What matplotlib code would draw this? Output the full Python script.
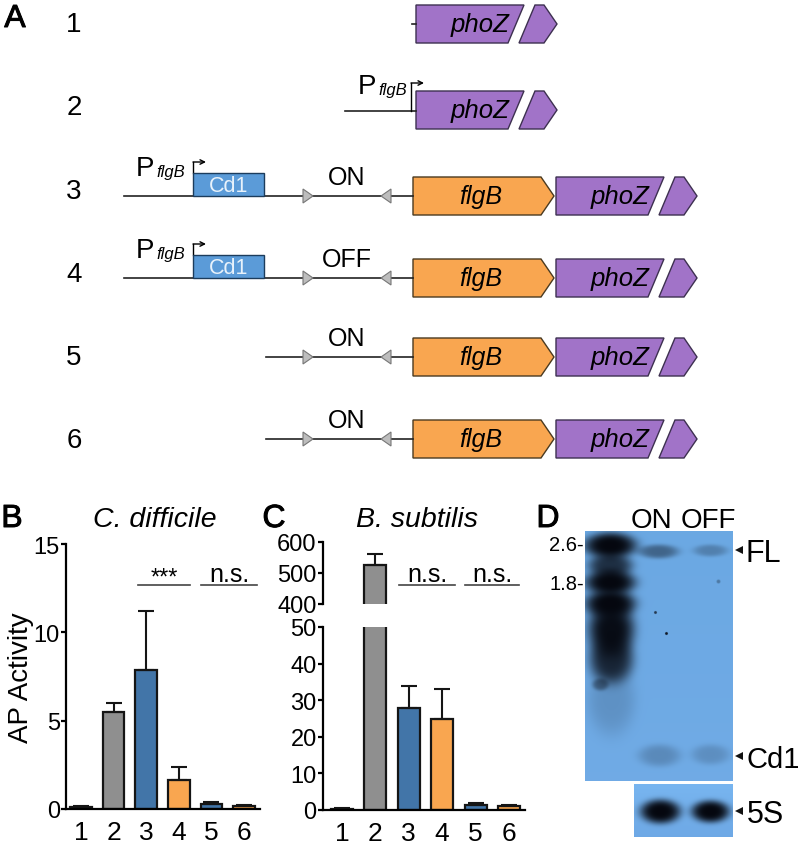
import numpy as np
import matplotlib
matplotlib.use("Agg")
import matplotlib.pyplot as plt
import matplotlib.patheffects as pe
from matplotlib.patches import Polygon, Rectangle

plt.rcParams['font.family'] = ['Liberation Sans', 'DejaVu Sans']

W, H = 800, 845

# bar data
lanes = [1, 2, 3, 4, 5, 6]
diff_vals = [0.1, 5.5, 7.85, 1.65, 0.3, 0.15]
diff_tops = [0.15, 6.0, 11.2, 2.4, 0.4, 0.25]
subt_vals = [0.3, 525, 28, 25, 1.5, 1.0]
subt_tops = [0.5, 560, 34, 33, 2.0, 1.5]
bar_colors = ['#555555', '#8f8f8f', '#4275a8', '#f9a650', '#4275a8', '#f9a650']

# blot bands: x, y, half width, half height, strength
blot_bands = [(610, 546, 26, 13, 1.0), (610, 583, 25, 13, 1.0), (610, 604, 25, 14, 1.0),
              (610, 566, 22, 12, 0.75), (611, 630, 23, 28, 0.97), (611, 660, 22, 24, 0.8),
              (600, 685, 8, 6, 0.4), (611, 700, 24, 36, 0.15),
              (658, 552, 20, 7, 0.42), (710, 551, 17, 6, 0.25),
              (659, 756, 21, 11, 0.2), (710, 755, 19, 10, 0.17),
              (655, 613, 1.5, 1.5, 0.7), (666, 634, 1.5, 1.5, 0.9), (718, 582, 2, 2, 0.3)]
small_bands = [(660, 812, 20, 12, 1.0), (710, 812, 19, 11, 1.0)]

# gene diagram rows: label y, line y
row_label_y = [25, 108, 192, 275, 358, 441]
row_line_y = [25, 112, 197, 279, 358, 440]
row_state = ['', '', 'ON', 'OFF', 'ON', 'ON']

PURPLE = '#a173c8'
ORANGE = '#f9a650'
BLUE = '#5b9bd8'
DARK = '#222222'


def blot_img(x0, x1, y0, y1, bands, top_col, bot_col):
    xx, yy = np.meshgrid(np.arange(x0, x1), np.arange(y0, y1))
    keep = np.ones(xx.shape)
    for bx, by, sx, sy, s in bands:
        d = ((xx - bx) / sx) ** 2 + ((yy - by) / sy) ** 2
        keep *= 1 - s * np.exp(-d ** 2)
    t = ((yy - y0) / (y1 - y0))[..., None]
    bg = np.array(top_col) * (1 - t) + np.array(bot_col) * t
    dark = np.array([0.02, 0.03, 0.06])
    k = keep[..., None]
    return bg * k + dark * (1 - k)


def phoz(ax, x0, mid):
    top, bot = mid - 19, mid + 19
    ax.add_patch(Polygon([(x0, top), (x0 + 108, top), (x0 + 92, bot), (x0, bot)],
                         fc=PURPLE, ec='#3d3050', lw=1))
    ax.add_patch(Polygon([(x0 + 119, top), (x0 + 128, top), (x0 + 141, mid),
                          (x0 + 128, bot), (x0 + 103, bot)],
                         fc=PURPLE, ec='#3d3050', lw=1))
    ax.text(x0 + 64, mid, 'phoZ', style='italic', fontsize=18.5, ha='center', va='center')


def flgb(ax, mid):
    top, bot = mid - 19, mid + 19
    ax.add_patch(Polygon([(413, top), (541, top), (554, mid), (541, bot), (413, bot)],
                         fc=ORANGE, ec='#4a3a20', lw=1))
    ax.text(481, mid, 'flgB', style='italic', fontsize=18, ha='center', va='center')


def promoter(ax, x, y0, y1, text_x, text_y):
    ax.annotate('', xy=(x + 13, y1), xytext=(x, y1),
                arrowprops=dict(arrowstyle='->', lw=1, color='black', shrinkA=0, shrinkB=0,
                                mutation_scale=8))
    ax.plot([x, x], [y0, y1], color='black', lw=1)
    ax.text(text_x, text_y, 'P', fontsize=20, ha='left', va='center')
    ax.text(text_x + 20, text_y + 4, 'flgB', style='italic', fontsize=12, ha='left', va='center')


fig = plt.figure(figsize=(W / 100, H / 100), dpi=100)
bg = fig.add_axes([0, 0, 1, 1])
bg.set_xlim(0, W)
bg.set_ylim(H, 0)
bg.axis('off')

for lab, y in zip(lanes, row_label_y):
    bg.text(74, y, str(lab), fontsize=20, ha='center', va='center')

bg.plot([416, 412], [row_line_y[0], row_line_y[0]], color=DARK, lw=1.2)
phoz(bg, 416, 25)
bg.plot([345, 416], [112, 112], color=DARK, lw=1.2)
promoter(bg, 411, 112, 84, 358, 87)
phoz(bg, 416, 111)

for i in [2, 3, 4, 5]:
    y = row_line_y[i]
    x_start = 124 if i < 4 else 266
    bg.plot([x_start, 413], [y, y], color=DARK, lw=1.2)
    bg.add_patch(Polygon([(303, y - 7), (313, y), (303, y + 7)], fc='#bdbdbd', ec='#777777', lw=0.8, zorder=3))
    bg.add_patch(Polygon([(391, y - 7), (381, y), (391, y + 7)], fc='#bdbdbd', ec='#777777', lw=0.8, zorder=3))
    bg.text(347, y - 19, row_state[i], fontsize=18, ha='center', va='center')
    flgb(bg, y)
    phoz(bg, 556, y)
    if i < 4:
        bg.add_patch(Rectangle((193, y - 23), 71, 23, fc=BLUE, ec='#1c3c5c', lw=1, zorder=3))
        bg.text(229, y - 10.5, 'Cd1', color='#e8f2fb', fontsize=15.5, ha='center', va='center', zorder=4)
        promoter(bg, 193, y - 23, y - 34, 136, y - 28)

# panel letters
for s, x, y in [('A', 15, 20), ('B', 12, 520), ('C', 274, 520), ('D', 548, 520)]:
    bg.text(x, y, s, fontsize=23, ha='center', va='center',
            path_effects=[pe.withStroke(linewidth=0.7, foreground='black')])

bg.text(155, 520, 'C. difficile', style='italic', fontsize=20.5, ha='center', va='center')
bg.text(417, 520, 'B. subtilis', style='italic', fontsize=20.5, ha='center', va='center')


def bars(ax, vals, tops, width=0.66):
    err = np.array(tops) - np.array(vals)
    ax.bar(lanes, vals, width=width, color=bar_colors, edgecolor='#151515', linewidth=1.6)
    ax.errorbar(lanes, vals, yerr=[np.zeros(len(err)), err], fmt='none', ecolor='#151515',
                elinewidth=1.5, capsize=5.5, capthick=1.5)


def style(ax):
    ax.patch.set_alpha(0)
    ax.spines['top'].set_visible(False)
    ax.spines['right'].set_visible(False)
    ax.spines['left'].set_linewidth(1.6)
    ax.spines['bottom'].set_linewidth(1.6)
    ax.tick_params(axis='y', length=3.5, width=1.6, labelsize=17, pad=1)
    ax.tick_params(axis='x', length=0, labelsize=19, pad=8)


def px_axes(x0, x1, y_top, y_bot):
    return fig.add_axes([x0 / W, 1 - y_bot / H, (x1 - x0) / W, (y_bot - y_top) / H])


# panel B
ax_b = px_axes(66, 260, 545, 810)
bars(ax_b, diff_vals, diff_tops)
ax_b.set_xlim(0.54, 6.49)
ax_b.set_ylim(0, 15)
ax_b.set_yticks([0, 5, 10, 15])
ax_b.set_xticks(lanes)
style(ax_b)
ax_b.set_ylabel('AP Activity', fontsize=20, labelpad=0)

# panel C, lower part
ax_c = px_axes(323, 525, 628, 811)
bars(ax_c, subt_vals, subt_tops)
ax_c.set_xlim(0.431, 6.48)
ax_c.set_ylim(0, 50)
ax_c.set_yticks([0, 10, 20, 30, 40, 50])
ax_c.set_xticks(lanes)
style(ax_c)

# panel C, upper part
ax_u = px_axes(323, 525, 543, 605)
bars(ax_u, subt_vals, subt_tops)
ax_u.set_xlim(0.431, 6.48)
ax_u.set_ylim(400, 600)
ax_u.set_yticks([400, 500, 600])
style(ax_u)
ax_u.spines['bottom'].set_visible(False)
ax_u.set_xticks([])

# significance marks
for x0, x1, s in [(138, 190, '***'), (201, 257, 'n.s.'), (399, 455, 'n.s.'), (465, 519, 'n.s.')]:
    bg.plot([x0, x1], [586, 586], color='#444444', lw=1.2)
    fs = 18 if s == 'n.s.' else 17
    bg.text((x0 + x1) / 2, 575 if s == 'n.s.' else 579, s, fontsize=fs, ha='center', va='center')

# panel D blots
blot = blot_img(585, 733, 532, 782, blot_bands, (0.42, 0.66, 0.89), (0.44, 0.67, 0.90))
ax_d = px_axes(585, 733, 532, 782)
ax_d.imshow(blot, aspect='auto', interpolation='bilinear')
ax_d.axis('off')
small = blot_img(634, 733, 785, 838, small_bands, (0.47, 0.71, 0.94), (0.43, 0.66, 0.90))
ax_s = px_axes(634, 733, 785, 838)
ax_s.imshow(small, aspect='auto', interpolation='bilinear')
ax_s.axis('off')

bg.text(651, 521, 'ON', fontsize=20, ha='center', va='center')
bg.text(708, 521, 'OFF', fontsize=20, ha='center', va='center')
bg.text(584, 546, '2.6-', fontsize=14.5, ha='right', va='center')
bg.text(584, 585, '1.8-', fontsize=14.5, ha='right', va='center')

for y, s, x, fs in [(551, 'FL', 746, 22), (757, 'Cd1', 746, 21), (812, '5S', 747, 22)]:
    bg.add_patch(Polygon([(735, y), (743, y - 4), (743, y + 4)], fc='#111111', ec='none'))
    bg.text(x, y + 3, s, fontsize=fs, ha='left', va='center')

fig.savefig('out.png', dpi=100)
